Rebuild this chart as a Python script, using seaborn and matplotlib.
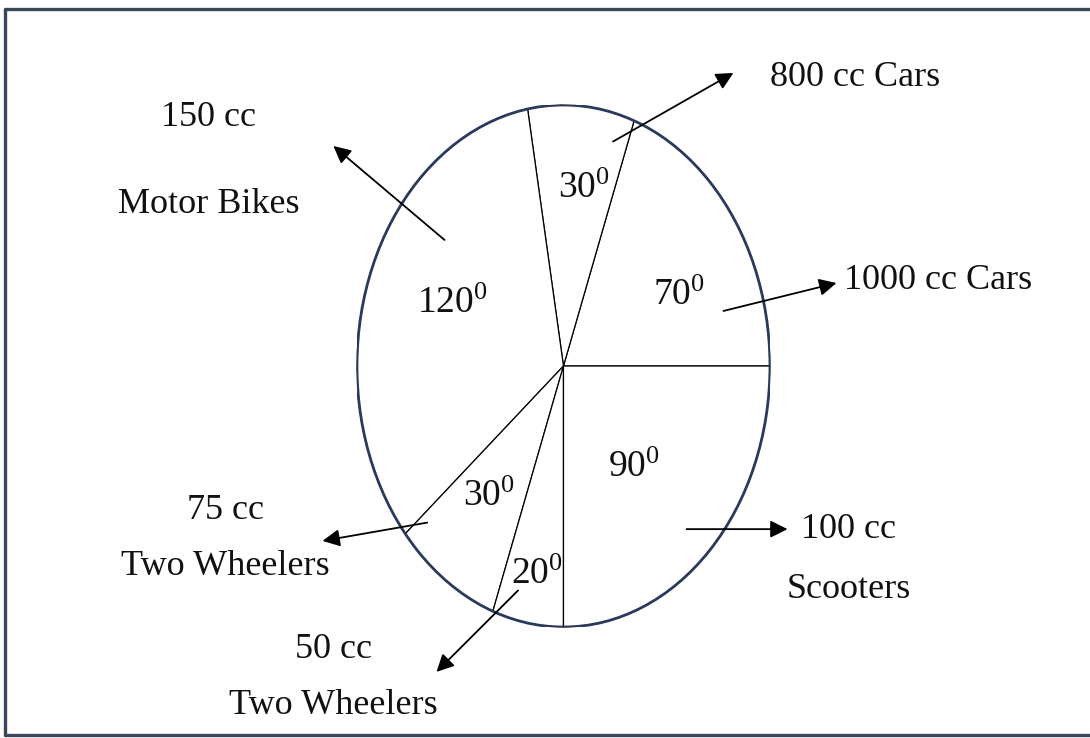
import matplotlib
matplotlib.use("Agg")
import matplotlib.pyplot as plt
import matplotlib.patches as mpatches
from matplotlib.lines import Line2D
import seaborn as sns

# data: sector angles (degrees), drawn counter-clockwise from the right
categories = ["1000 cc Cars", "800 cc Cars", "150 cc Motor Bikes",
              "75 cc Two Wheelers", "50 cc Two Wheelers", "100 cc Scooters"]
angles = [70, 30, 120, 30, 20, 90]
outer_labels = [["1000 cc Cars"], ["800 cc Cars"], ["150 cc", "Motor Bikes"],
                ["75 cc", "Two Wheelers"], ["50 cc", "Two Wheelers"],
                ["100 cc", "Scooters"]]

sns.set_theme(style="white")
plt.rcParams["font.family"] = ["Liberation Serif", "DejaVu Serif"]
plt.rcParams["mathtext.fontset"] = "custom"
plt.rcParams["mathtext.rm"] = "Liberation Serif"
plt.rcParams["mathtext.it"] = "Liberation Serif:italic"

fig = plt.figure(figsize=(10.9, 7.38), dpi=100)
fig.patch.set_facecolor("white")
ax = fig.add_axes([0.3275, 0.1504, 0.3789, 0.7073])

ax.pie(angles, startangle=0, counterclock=True, colors=["white"] * len(angles),
       wedgeprops=dict(edgecolor="black", linewidth=0.9))
ax.set_aspect("auto")
ax.set_xlim(-1, 1)
ax.set_ylim(-1, 1)
ax.add_patch(mpatches.Circle((0, 0), 1.0, fill=False, edgecolor="#2a3a5c",
                             linewidth=2.0, zorder=3))

# angle labels inside the sectors
inner_pos = [(0.56, 0.27), (0.10, 0.68), (-0.54, 0.24),
             (-0.36, -0.50), (-0.13, -0.80), (0.34, -0.39)]
for a, (x, y) in zip(angles, inner_pos):
    ax.text(x, y, f"{a}$^{{0}}$", fontsize=27, ha="center", va="center",
            color="#111111", zorder=4)

# arrows: tail inside sector -> head pointing to the label
arrow_tail = [(0.775, 0.211), (0.24, 0.86), (-0.576, 0.483),
              (-0.66, -0.60), (-0.22, -0.86), (0.596, -0.625)]
arrow_head = [(1.322, 0.318), (0.823, 1.123), (-1.114, 0.843),
              (-1.167, -0.670), (-0.615, -1.172), (1.085, -0.625)]
for t, h in zip(arrow_tail, arrow_head):
    ax.annotate("", xy=h, xytext=t, annotation_clip=False,
                arrowprops=dict(arrowstyle="-|>", color="black", lw=1.3,
                                mutation_scale=26, shrinkA=0, shrinkB=0),
                zorder=5)

# outer category labels
label_pos = [[(1.816, 0.326)], [(1.414, 1.107)],
             [(-1.719, 0.954), (-1.719, 0.617)],
             [(-1.637, -0.552), (-1.637, -0.770)],
             [(-1.114, -1.088), (-1.114, -1.299)],
             [(1.380, -0.628), (1.380, -0.858)]]
for lines, poss in zip(outer_labels, label_pos):
    for txt, (x, y) in zip(lines, poss):
        ax.text(x, y, txt, fontsize=26, ha="center", va="center",
                color="#111111", clip_on=False)

# picture frame (top, left, bottom)
frame_col = "#3a4759"
fig.add_artist(Line2D([0.0046, 1.02], [0.9878, 0.9878], color=frame_col, lw=2.4))
fig.add_artist(Line2D([0.0046, 0.0046], [0.0041, 0.9878], color=frame_col, lw=2.4))
fig.add_artist(Line2D([0.0046, 1.02], [0.0041, 0.0041], color=frame_col, lw=2.4))

fig.savefig("out.png", dpi=100, facecolor="white")
